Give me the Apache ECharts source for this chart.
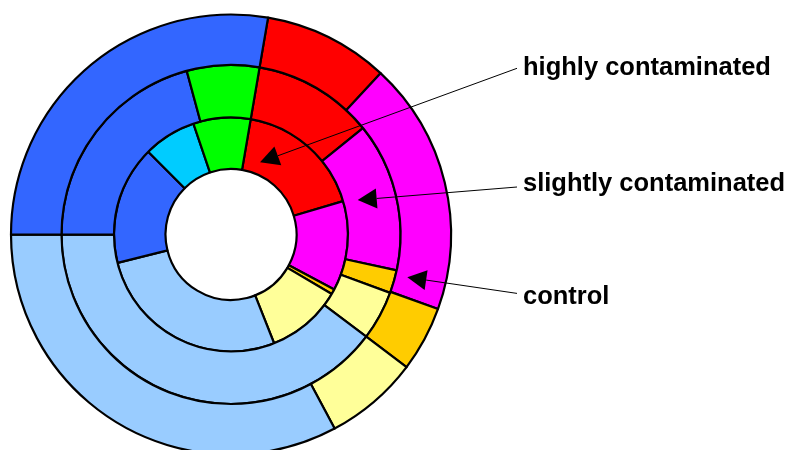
<!DOCTYPE html>
<html>
<head>
<meta charset="utf-8">
<script src="https://cdn.jsdelivr.net/npm/echarts@6/dist/echarts.min.js"></script>
<style>
  html, body { margin: 0; padding: 0; background: #fff; }
  #chart { width: 789px; height: 450px; }
</style>
</head>
<body>
<div id="chart"></div>
<script>
// slice order goes clockwise from the first boundary (~10deg past 12 o'clock)
const names = ['red', 'magenta', 'orange', 'yellow', 'lightblue', 'blue', 'cyan', 'green']
const colors = {
  red: '#FF0000', magenta: '#FF00FF', orange: '#FFCC00', yellow: '#FFFF99',
  lightblue: '#99CCFF', blue: '#3366FF', cyan: '#00CCFF', green: '#00FF00'
}

// percentages per ring (inner = highly, middle = slightly, outer = control)
const highlyValues   = [17.7, 12.4, 0.7, 10.5, 27.1, 16.4, 7.3, 7.9]
const slightlyValues = [11.5, 14.2, 2.2, 4.7, 39.7, 20.8, 0, 6.9]
const controlValues  = [9.2, 18.6, 4.8, 6.9, 32.8, 27.7, 0, 0]

const ringLabels = ['highly contaminated', 'slightly contaminated', 'control']

const center = [231, 234.5]

const toData = (vals) => vals
  .map((v, i) => ({ name: names[i], value: v, itemStyle: { color: colors[names[i]] } }))
  .filter(d => d.value > 0)

const ring = (vals, radius) => ({
  type: 'pie',
  center: center,
  radius: radius,
  startAngle: 80.3,
  clockwise: true,
  silent: true,
  label: { show: false },
  labelLine: { show: false },
  emphasis: { disabled: true },
  itemStyle: { borderColor: '#000', borderWidth: 2.2 },
  data: toData(vals)
})

// annotation: line from text to an arrow tip inside each ring
const arrows = [
  { from: [517, 68.3], tip: [260, 162.3] },
  { from: [517, 187], tip: [357.7, 200] },
  { from: [517, 293.4], tip: [407.3, 277.3] }
]
const textY = [68, 184, 297]

const graphics = []
arrows.forEach((a, i) => {
  const dx = a.from[0] - a.tip[0], dy = a.from[1] - a.tip[1]
  const len = Math.sqrt(dx * dx + dy * dy)
  const ux = dx / len, uy = dy / len
  const L = 19, W = 10
  const bx = a.tip[0] + ux * L, by = a.tip[1] + uy * L
  graphics.push({
    type: 'line', z: 100,
    shape: { x1: a.from[0], y1: a.from[1], x2: bx, y2: by },
    style: { stroke: '#000', lineWidth: 1 }
  })
  graphics.push({
    type: 'polygon', z: 100,
    shape: { points: [a.tip, [bx - uy * W, by + ux * W], [bx + uy * W, by - ux * W]] },
    style: { fill: '#000' }
  })
  graphics.push({
    type: 'text', z: 100,
    x: 523, y: textY[i],
    style: {
      text: ringLabels[i], x: 0, y: 0,
      font: 'bold 25.5px "Liberation Sans", Arial, sans-serif',
      fill: '#000', verticalAlign: 'middle', align: 'left'
    }
  })
})

const chart = echarts.init(document.getElementById('chart'))
chart.setOption({
  animation: false,
  series: [
    ring(highlyValues, [65.5, 117]),
    ring(slightlyValues, [117, 169.5]),
    ring(controlValues, [169.5, 220])
  ],
  graphic: graphics
})
</script>
</body>
</html>
